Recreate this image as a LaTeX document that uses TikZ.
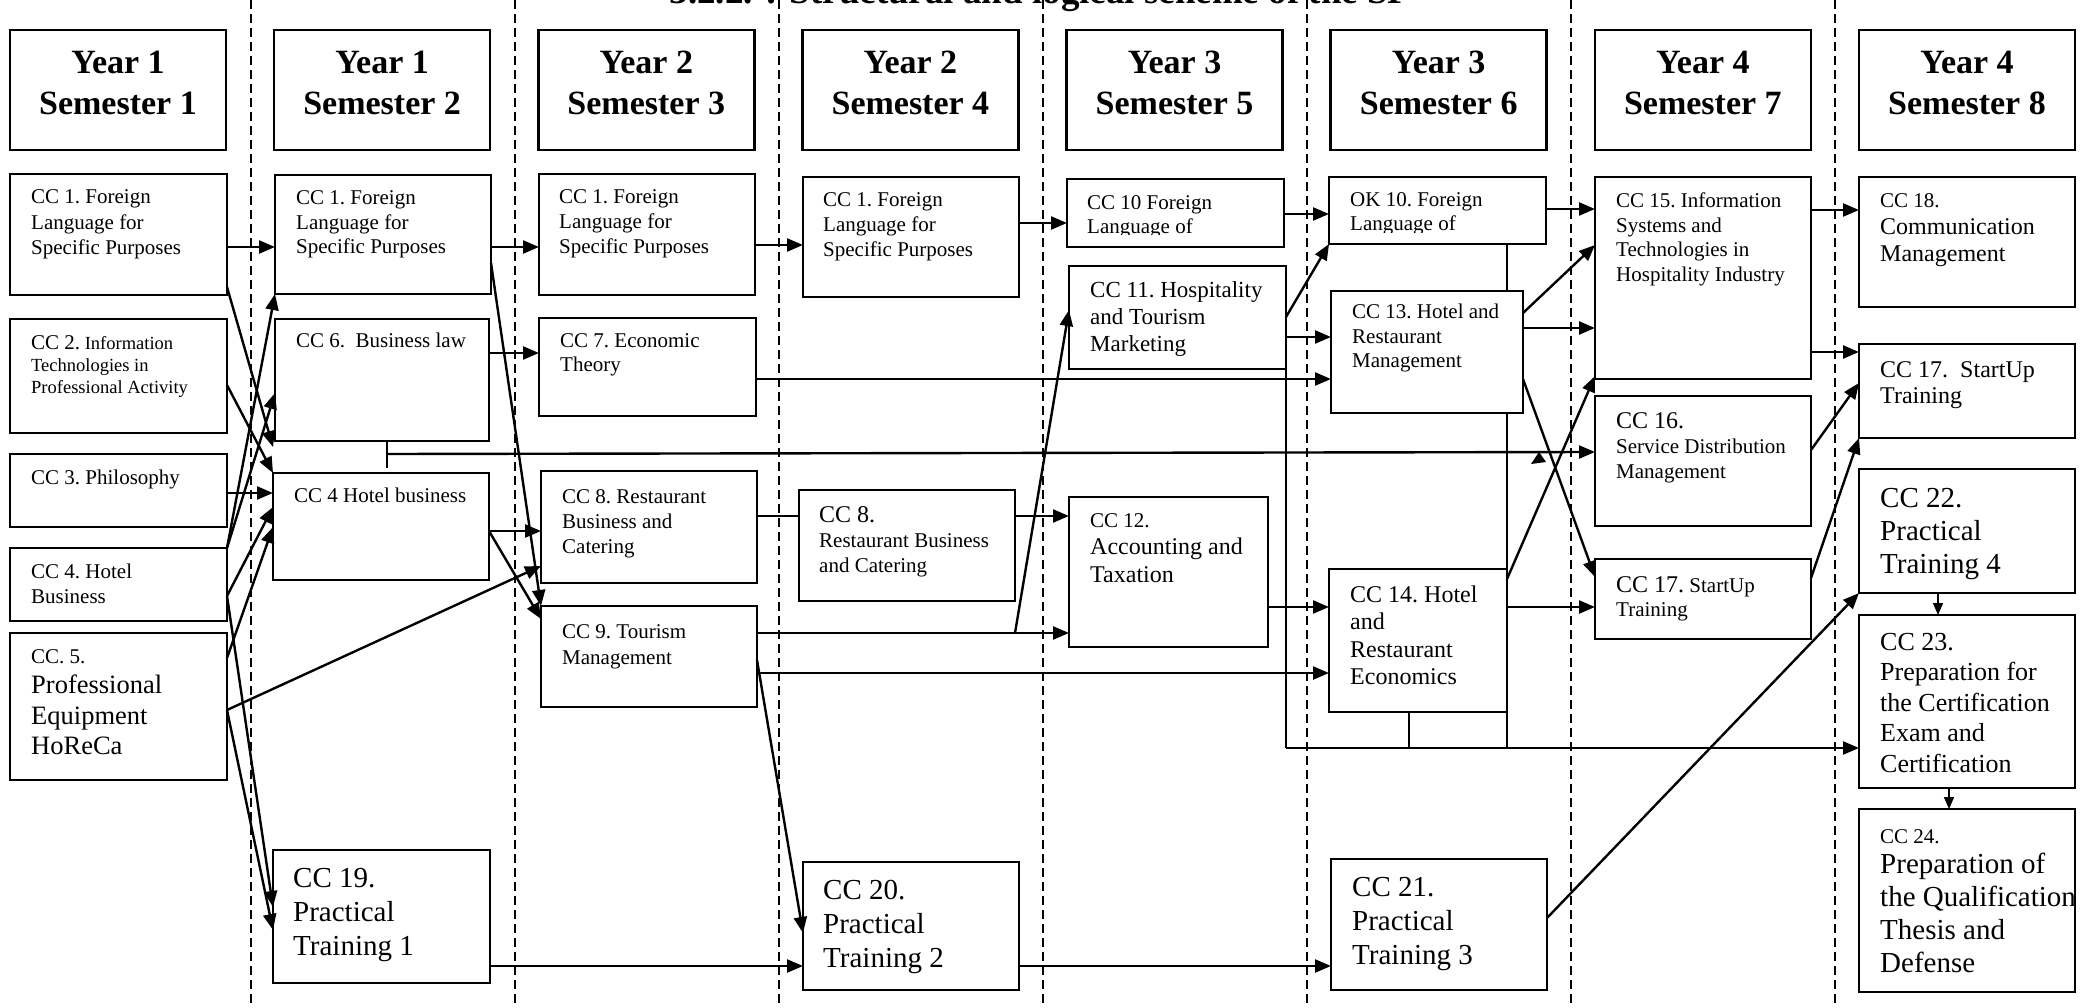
\documentclass[tikz,border=0pt]{standalone}
\usepackage{fontspec}
\setmainfont{Liberation Serif}
\usetikzlibrary{arrows.meta,fit}
\newcommand{\cctext}[3]{\parbox[t]{230pt}{\raggedright\frenchspacing\fontsize{#1}{#2}\selectfont #3}}

\begin{document}
\begin{tikzpicture}[x=1pt,y=-1pt,
  box/.style={draw, line width=2.6pt, fill=white, inner sep=0pt, outer sep=0pt},
  txt/.style={anchor=base west, inner sep=0pt},
  arr/.style={line width=2.4pt, -{Triangle[length=16pt,width=13pt]}},
  sarr/.style={line width=1.6pt, -{Triangle[length=12pt,width=10pt]}},
  wire/.style={line width=1.6pt},
  divider/.style={line width=1.4pt, dash pattern=on 9pt off 5pt}]
\useasboundingbox (0,0) rectangle (2091,1008);
\clip (0,0) rectangle (2091,1008);

% title, cut at the top
\node[anchor=base, inner sep=0pt, font=\bfseries\fontsize{37}{37}\selectfont] (title) at (1040,4) {3.2.2. : Structural and logical scheme of the SP};

% semester dividers
\foreach \i in {0,...,6}
  \draw[divider] ({251+264*\i},0) -- ({251+264*\i},1008);

% headers
\foreach \i in {1,...,8}{
  \pgfmathsetmacro\xl{10+264.14*(\i-1)}
  \pgfmathtruncatemacro\yr{(\i+1)/2}
  \node[box, fit={(\xl,30) (\xl+216,150)}] (hd\i) {};
  \node[anchor=base, inner sep=0pt] (hdt\i) at (\xl+108,74) {\parbox[t]{216pt}{\centering\bfseries\fontsize{34}{41}\selectfont Year \yr\\Semester \i}};
}

% semester 1
\node[box, fit={(10,174) (227,295)}] (fl1) {};
\node[txt] (fl1t) at (31,204) {\cctext{21}{25.5}{CC 1. Foreign\\Language for\\Specific Purposes}};
\node[box, fit={(10,319) (227,433)}] (it1) {};
\node[txt] (it1t) at (31,349) {\cctext{18.5}{22}{{\fontsize{21}{22}\selectfont CC 2.} Information\\Technologies in\\Professional Activity}};
\node[box, fit={(10,454) (227,527)}] (ph1) {};
\node[txt] (ph1t) at (31,484) {\cctext{21}{25}{CC 3. Philosophy}};
\node[box, fit={(10,548) (227,621)}] (hb1) {};
\node[txt] (hb1t) at (31,578) {\cctext{21}{25}{CC 4. Hotel\\Business}};
\node[box, fit={(10,633) (227,780)}] (pe1) {};
\node[txt] (pe1t) at (31,663) {\cctext{26.5}{30.5}{{\fontsize{21}{30.5}\selectfont CC. 5.}\\Professional\\Equipment\\HoReCa}};

% semester 2
\node[box, fit={(275,175) (491,294)}] (fl2) {};
\node[txt] (fl2t) at (296,205) {\cctext{21}{24.5}{CC 1. Foreign\\Language for\\Specific Purposes}};
\node[box, fit={(275,319) (489,441)}] (bl2) {};
\node[txt] (bl2t) at (296,348) {\cctext{21}{25}{CC 6.~~Business law}};
\node[box, fit={(273,473) (489,580)}] (hb2) {};
\node[txt] (hb2t) at (294,502) {\cctext{21}{25}{CC 4 Hotel business}};
\node[box, fit={(273,850) (490,983)}] (pt1) {};
\node[txt] (pt1t) at (293,887) {\cctext{29}{34}{CC 19.\\Practical\\Training 1}};

% semester 3
\node[box, fit={(539,174) (755,295)}] (fl3) {};
\node[txt] (fl3t) at (559,204) {\cctext{21}{25}{CC 1. Foreign\\Language for\\Specific Purposes}};
\node[box, fit={(539,318) (756,416)}] (et3) {};
\node[txt] (et3t) at (560,348) {\cctext{21}{24}{CC 7. Economic\\Theory}};
\node[box, fit={(541,471) (757,583)}] (rb3) {};
\node[txt] (rb3t) at (562,503) {\cctext{21}{25}{CC 8. Restaurant\\Business and\\Catering}};
\node[box, fit={(541,606) (757,707)}] (tm3) {};
\node[txt] (tm3t) at (562,638) {\cctext{21}{26}{CC 9. Tourism\\Management}};

% semester 4
\node[box, fit={(803,177) (1019,297)}] (fl4) {};
\node[txt] (fl4t) at (823,207) {\cctext{21}{25}{CC 1. Foreign\\Language for\\Specific Purposes}};
\node[box, fit={(799,490) (1015,601)}] (rb4) {};
\node[txt] (rb4t) at (819,522) {\cctext{21}{25}{{\fontsize{24}{25}\selectfont CC 8.}\\Restaurant Business\\and Catering}};
\node[box, fit={(803,862) (1019,990)}] (pt2) {};
\node[txt] (pt2t) at (823,899) {\cctext{29}{34}{CC 20.\\Practical\\Training 2}};

% semester 5
\node[box, fit={(1067,179) (1284,247)}] (fl5) {};
\begin{scope}
  \clip (1067,179) rectangle (1284,235);
  \node[txt] (fl5t) at (1087,210) {\cctext{21}{24}{CC 10 Foreign\\Language of}};
\end{scope}
\node[box, fit={(1069,266) (1286,369)}] (hm5) {};
\node[txt] (hm5t) at (1090,298) {\cctext{23}{27}{CC 11. Hospitality\\and Tourism\\Marketing}};
\node[box, fit={(1069,497) (1268,647)}] (at5) {};
\node[txt] (at5t) at (1090,527) {\cctext{24}{27.5}{{\fontsize{21}{27.5}\selectfont CC 12.}\\Accounting and\\Taxation}};

% semester 6
\node[box, fit={(1329,177) (1546,244)}] (fl6) {};
\begin{scope}
  \clip (1329,177) rectangle (1546,233);
  \node[txt] (fl6t) at (1350,207) {\cctext{21}{24}{OK 10. Foreign\\Language of}};
\end{scope}
\node[box, fit={(1331,291) (1523,413)}] (hr6) {};
\node[txt] (hr6t) at (1352,319) {\cctext{21}{24.5}{CC 13. Hotel and\\Restaurant\\Management}};
\node[box, fit={(1329,569) (1507,712)}] (he6) {};
\node[txt] (he6t) at (1350,602) {\cctext{24}{27.5}{CC 14. Hotel\\and\\Restaurant\\Economics}};
\node[box, fit={(1331,859) (1547,990)}] (pt3) {};
\node[txt] (pt3t) at (1352,896) {\cctext{29}{34}{CC 21.\\Practical\\Training 3}};

% semester 7
\node[box, fit={(1595,177) (1811,379)}] (is7) {};
\node[txt] (is7t) at (1616,208) {\cctext{21}{24.5}{CC 15. Information\\Systems and\\Technologies in\\Hospitality Industry}};
\node[box, fit={(1595,396) (1811,526)}] (sd7) {};
\node[txt] (sd7t) at (1616,428) {\cctext{21}{25}{{\fontsize{24}{25}\selectfont CC 16.}\\Service Distribution\\Management}};
\node[box, fit={(1595,559) (1811,639)}] (su7) {};
\node[txt] (su7t) at (1616,592) {\cctext{21}{24.5}{{\fontsize{24}{24.5}\selectfont CC 17.} StartUp\\Training}};

% semester 8
\node[box, fit={(1859,177) (2075,307)}] (cm8) {};
\node[txt] (cm8t) at (1880,208) {\cctext{24}{27}{{\fontsize{21}{27}\selectfont CC 18.}\\Communication\\Management}};
\node[box, fit={(1859,344) (2075,438)}] (su8) {};
\node[txt] (su8t) at (1880,377) {\cctext{24}{26.5}{CC 17.~~StartUp\\Training}};
\node[box, fit={(1859,469) (2075,593)}] (pt4) {};
\node[txt] (pt4t) at (1880,507) {\cctext{29}{33}{CC 22.\\Practical\\Training 4}};
\node[box, fit={(1859,615) (2075,788)}] (ce8) {};
\node[txt] (ce8t) at (1880,650) {\cctext{26}{30.5}{CC 23.\\Preparation for\\the Certification\\Exam and\\Certification}};
\node[box, fit={(1859,809) (2075,992)}] (qt8) {};
\node[txt] (qt8t) at (1880,843) {\cctext{29}{33}{{\fontsize{21}{33}\selectfont CC 24.}\\[-3pt]Preparation of\\the Qualification\\Thesis and\\Defense}};

% semester 1 -> 2
\draw[arr] (fl1.east |- 0,247) -- (fl2.west |- 0,247);
\draw[arr] (fl1.east |- 0,287) -- ([xshift=-2pt,yshift=-6pt]bl2.south west);
\draw[arr] (it1.east |- 0,385) -- (hb2.north west);
\draw[arr] (ph1.east |- 0,493) -- (hb2.west |- 0,493);
\draw[arr] (hb1.north east) -- (fl2.south west);
\draw[arr] (hb1.north east) -- (bl2.west |- 0,393);
\draw[arr] (hb1.east |- 0,596) -- (hb2.west |- 0,507);
\draw[arr] (hb1.east |- 0,596) -- (pt1.west |- 0,907);
\draw[arr] (pe1.east |- 0,658) -- (hb2.west |- 0,527);
\draw[arr] (pe1.east |- 0,710) -- (pt1.west |- 0,930);
\draw[arr] (pe1.east |- 0,710) -- (rb3.west |- 0,566);

% semester 2 -> 3
\draw[arr] (fl2.east |- 0,247) -- (fl3.west |- 0,247);
\draw[arr] (fl2.east |- 0,263) -- (tm3.north west);
\draw[arr] (bl2.east |- 0,353) -- (et3.west |- 0,353);
\draw[arr] (hb2.east |- 0,531) -- (rb3.west |- 0,531);
\draw[arr] (hb2.east |- 0,531) -- (tm3.west |- 0,619);
\draw[wire] (bl2.south -| 387,0) -- ++(0,27);
\coordinate (tap) at (387,454);
\draw[arr] (tap) -- (sd7.west |- 0,452);
\fill (1531,464) -- (1546,462) -- (1539,452) -- cycle;

% semester 3 -> 4
\draw[arr] (fl3.east |- 0,245) -- (fl4.west |- 0,245);
\draw[arr] (et3.east |- 0,379) -- (hr6.west |- 0,379);
\draw[line width=2.4pt] (rb3.east |- 0,516) -- (rb4.west |- 0,516);
\draw[arr] (tm3.east |- 0,633) -- (at5.west |- 0,633);
\coordinate (fork) at (1015,633);
\draw[arr] (fork) -- (hm5.west |- 0,310);
\draw[arr] (tm3.east |- 0,673) -- (he6.west |- 0,673);
\draw[arr] (tm3.east |- 0,660) -- (pt2.west |- 0,933);
\draw[arr] (pt1.east |- 0,966) -- (pt2.west |- 0,966);

% semester 4 -> 5
\draw[arr] (fl4.east |- 0,223) -- (fl5.west |- 0,223);
\draw[arr] (rb4.east |- 0,516) -- (at5.west |- 0,516);
\draw[arr] (pt2.east |- 0,966) -- (pt3.west |- 0,966);

% semester 5 -> 6
\draw[arr] (fl5.east |- 0,214) -- (fl6.west |- 0,214);
\draw[arr] (hm5.east |- 0,317) -- (fl6.south west);
\draw[arr] (hm5.east |- 0,337) -- (hr6.west |- 0,337);
\draw[arr] (at5.east |- 0,607) -- (he6.west |- 0,607);
\draw[wire] (hm5.south east) -- (hm5.east |- 0,748) coordinate (busl);
\draw[wire] (fl6.south -| he6.east) -- (hr6.north -| he6.east);
\draw[wire] (hr6.south -| he6.east) -- (he6.north east);
\draw[wire] (he6.south east) -- (he6.east |- busl);
\draw[wire] ([xshift=-9pt]he6.south) -- ([xshift=-9pt]he6.south |- busl);
\draw[arr] (busl) -- (ce8.west |- busl);

% semester 6 -> 7
\draw[arr] (fl6.east |- 0,209) -- (is7.west |- 0,209);
\draw[arr] (hr6.east |- 0,313) -- (is7.west |- 0,245);
\draw[arr] (hr6.east |- 0,328) -- (is7.west |- 0,328);
\draw[arr] (hr6.east |- 0,379) -- (su7.west |- 0,577);
\draw[arr] (he6.east |- 0,579) -- (is7.west |- 0,376);
\draw[arr] (he6.east |- 0,607) -- (su7.west |- 0,607);

% semester 7 -> 8
\draw[arr] (is7.east |- 0,210) -- (cm8.west |- 0,210);
\draw[arr] (is7.east |- 0,352) -- (su8.west |- 0,352);
\draw[arr] (sd7.east |- 0,450) -- (su8.west |- 0,383);
\draw[arr] (su7.east |- 0,578) -- (su8.south west);
\draw[arr] (pt3.east |- 0,918) -- (pt4.south west);
\draw[sarr] (pt4.south -| 1938,0) -- (ce8.north -| 1938,0);
\draw[sarr] (ce8.south -| 1949,0) -- (qt8.north -| 1949,0);
\end{tikzpicture}
\end{document}
